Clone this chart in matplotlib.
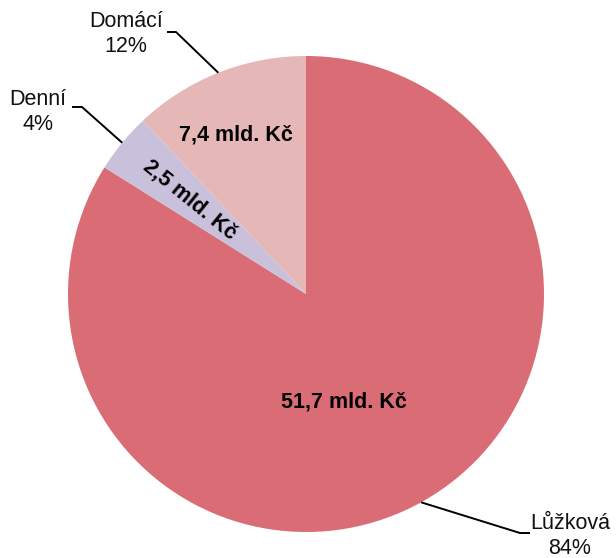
import numpy as np
import matplotlib
matplotlib.use("Agg")
import matplotlib.pyplot as plt

categories = ["Lůžková", "Denní", "Domácí"]
values = [51.7, 2.5, 7.4]
value_labels = ["51,7 mld. Kč", "2,5 mld. Kč", "7,4 mld. Kč"]
pct_labels = ["84%", "4%", "12%"]
colors = ["#D96C75", "#C9C1DB", "#E6B7B7"]

plt.rcParams['font.family'] = ['Liberation Sans', 'DejaVu Sans']

W, H = 616, 558
fig = plt.figure(figsize=(W / 100, H / 100), dpi=100)
ax = fig.add_axes([0, 0, 1, 1])
cx, cy, R = 306, 294, 238

wedges, _ = ax.pie(values, colors=colors, startangle=90, counterclock=False,
                   radius=1.0, center=(0, 0), frame=True,
                   wedgeprops=dict(linewidth=0))
ax.set_xlim(-cx / R, (W - cx) / R)
ax.set_ylim(-(H - cy) / R, cy / R)
ax.set_aspect('equal')
ax.axis('off')

def P(px, py):
    return ((px - cx) / R, (cy - py) / R)

# inner value labels: (radius fraction, angle offset, rotate?)
inner = [(0.48, -9.5, False), (0.63, 0.4, True), (0.73, 2.2, False)]
for w, lab, (rf, da, rot) in zip(wedges, value_labels, inner):
    mid = (w.theta1 + w.theta2) / 2 + da
    x, y = rf * np.cos(np.radians(mid)), rf * np.sin(np.radians(mid))
    r = mid - 180 if rot else 0
    ax.text(x, y, lab, ha='center', va='center', fontsize=15.5, fontweight='bold',
            rotation=r, rotation_mode='anchor', color='black')

# leader lines and outer labels
elbows = {"Domácí": (P(176, 32), P(167, 32)),
          "Denní": (P(82, 107), P(72, 107)),
          "Lůžková": (P(520, 533), P(530, 533))}
text_pos = {"Domácí": (P(126, 34), 'center'),
            "Denní": (P(38, 112), 'center'),
            "Lůžková": (P(570, 536), 'center')}
for w, cat, pct in zip(wedges, categories, pct_labels):
    mid = np.radians((w.theta1 + w.theta2) / 2)
    a = (np.cos(mid), np.sin(mid))
    e1, e2 = elbows[cat]
    ax.plot([a[0], e1[0], e2[0]], [a[1], e1[1], e2[1]], color='black', lw=1.4,
            solid_capstyle='butt')
    (tx, ty), ha = text_pos[cat]
    ax.text(tx, ty, f"{cat}\n{pct}", ha=ha, va='center', fontsize=15.5,
            linespacing=1.2, color='#111111')

fig.savefig("out.png", dpi=100)
